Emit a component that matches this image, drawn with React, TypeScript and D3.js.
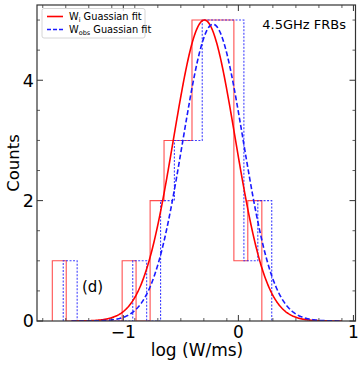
import React from "react";
import * as d3 from "d3";

const redEdges = [-1.617, -1.496, -1.374, -1.253, -1.131, -1.010, -0.889, -0.767, -0.646, -0.524, -0.403, -0.282, -0.160, -0.039, 0.082, 0.204];
const redCounts = [1, 0, 0, 0, 0, 1, 0, 2, 3, 3, 5, 5, 5, 1, 2];
const blueEdges = [-1.522, -1.401, -1.280, -1.160, -1.039, -0.918, -0.797, -0.676, -0.556, -0.435, -0.314, -0.193, -0.072, 0.048, 0.169, 0.290];
const blueCounts = [1, 0, 0, 0, 0, 1, 0, 2, 3, 3, 5, 5, 5, 1, 2];
// Gaussian fit parameters: [amplitude, mean, sigma]
const redFit = [5.0, -0.295, 0.268];
const blueFit = [4.93, -0.22, 0.263];
const fitRange = [-1.45, 0.9];
const xMajorTicks = [-1, 0, 1];
const yMajorTicks = [0, 2, 4];
const legendLabels = [["W", "i", " Guassian fit"], ["W", "obs", " Guassian fit"]];
const annotation = "4.5GHz FRBs";
const panelLabel = "(d)";

const W = 364, H = 365;
const L = 37, R = 355.5, T = 5, B = 321;

function stepPath(edges: number[], counts: number[], x: any, y: any) {
  const pts: [number, number][] = [];
  pts.push([edges[0], 0]);
  counts.forEach((c, i) => {
    pts.push([edges[i], c]);
    pts.push([edges[i + 1], c]);
  });
  pts.push([edges[edges.length - 1], 0]);
  return d3.line<[number, number]>().x(d => x(d[0])).y(d => y(d[1]))(pts) || "";
}

function gaussPath(p: number[], x: any, y: any) {
  const [a, m, s] = p;
  const xs = d3.range(0, 401).map(i => fitRange[0] + (fitRange[1] - fitRange[0]) * i / 400);
  return d3.line<number>().x(v => x(v)).y(v => y(a * Math.exp(-((v - m) ** 2) / (2 * s * s))))(xs) || "";
}

export default function App() {
  const x = d3.scaleLinear().domain([-1.75, 1.018]).range([L, R]);
  const y = d3.scaleLinear().domain([0, 5.25]).range([B, T]);
  const xMinor = d3.range(-17, 11, 2).map(v => v / 10).filter(v => !xMajorTicks.some(t => Math.abs(t - v) < 1e-6));
  const yMinor = d3.range(0, 11).map(v => v / 2).filter(v => !yMajorTicks.some(t => Math.abs(t - v) < 1e-6));
  const axisColor = "#333";
  const font = "DejaVu Sans, sans-serif";
  return (
    <svg width={W} height={H} style={{ position: "absolute", left: 0, top: 0, background: "#fff" }} fontFamily={font}>
      <rect x={0} y={0} width={W} height={H} fill="#fff" />
      <defs>
        <clipPath id="plot"><rect x={L} y={T} width={R - L} height={B - T} /></clipPath>
      </defs>
      <g clipPath="url(#plot)">
        <path d={stepPath(redEdges, redCounts, x, y)} fill="none" stroke="#ff3030" strokeOpacity={0.85} strokeWidth={1.1} />
        <path d={stepPath(blueEdges, blueCounts, x, y)} fill="none" stroke="#2020ff" strokeOpacity={0.85} strokeWidth={1.1} strokeDasharray="2,1.5" />
        <path d={gaussPath(redFit, x, y)} fill="none" stroke="#ff0000" strokeWidth={1.6} />
        <path d={gaussPath(blueFit, x, y)} fill="none" stroke="#1a1aff" strokeWidth={1.6} strokeDasharray="5,2.5" />
      </g>
      {xMajorTicks.map(t => (
        <g key={"xm" + t}>
          <line x1={x(t)} x2={x(t)} y1={B} y2={B - 6} stroke={axisColor} strokeWidth={1} />
          <line x1={x(t)} x2={x(t)} y1={T} y2={T + 6} stroke={axisColor} strokeWidth={1} />
          <text x={x(t)} y={338} fontSize={17} textAnchor="middle" fill="#000">{t < 0 ? "\u2212" + Math.abs(t) : String(t)}</text>
        </g>
      ))}
      {xMinor.map(t => (
        <g key={"xn" + t}>
          <line x1={x(t)} x2={x(t)} y1={B} y2={B - 3} stroke={axisColor} strokeWidth={0.8} />
          <line x1={x(t)} x2={x(t)} y1={T} y2={T + 3} stroke={axisColor} strokeWidth={0.8} />
        </g>
      ))}
      {yMajorTicks.map(t => (
        <g key={"ym" + t}>
          <line x1={L} x2={L + 6} y1={y(t)} y2={y(t)} stroke={axisColor} strokeWidth={1} />
          <line x1={R} x2={R - 6} y1={y(t)} y2={y(t)} stroke={axisColor} strokeWidth={1} />
          <text x={34} y={y(t) + 6.3} fontSize={17.5} textAnchor="end" fill="#000">{t}</text>
        </g>
      ))}
      {yMinor.map(t => (
        <g key={"yn" + t}>
          <line x1={L} x2={L + 3} y1={y(t)} y2={y(t)} stroke={axisColor} strokeWidth={0.8} />
          <line x1={R} x2={R - 3} y1={y(t)} y2={y(t)} stroke={axisColor} strokeWidth={0.8} />
        </g>
      ))}
      <rect x={L} y={T} width={R - L} height={B - T} fill="none" stroke={axisColor} strokeWidth={1.2} />
      <text x={197} y={356} fontSize={17} textAnchor="middle" fill="#000">log (W/ms)</text>
      <text transform={`translate(18.5,163) rotate(-90)`} fontSize={16.5} textAnchor="middle" fill="#000">Counts</text>
      <text x={346} y={29} fontSize={13} textAnchor="end" fill="#000">{annotation}</text>
      <text x={82} y={292} fontSize={15} fill="#000">{panelLabel}</text>
      <rect x={42} y={8.5} width={103} height={29.5} rx={2} fill="#fff" fillOpacity={0.8} stroke="#ccc" strokeWidth={0.8} />
      <line x1={47} x2={63} y1={16.5} y2={16.5} stroke="#ff0000" strokeWidth={1.6} />
      <line x1={47} x2={63} y1={29.5} y2={29.5} stroke="#1a1aff" strokeWidth={1.6} strokeDasharray="4,2" />
      {legendLabels.map((lab, i) => (
        <text key={i} x={69} y={19.8 + i * 13} fontSize={9.8} fill="#000">
          {lab[0]}<tspan fontSize={6.5} dy={2}>{lab[1]}</tspan><tspan dy={-2}>{lab[2]}</tspan>
        </text>
      ))}
    </svg>
  );
}
